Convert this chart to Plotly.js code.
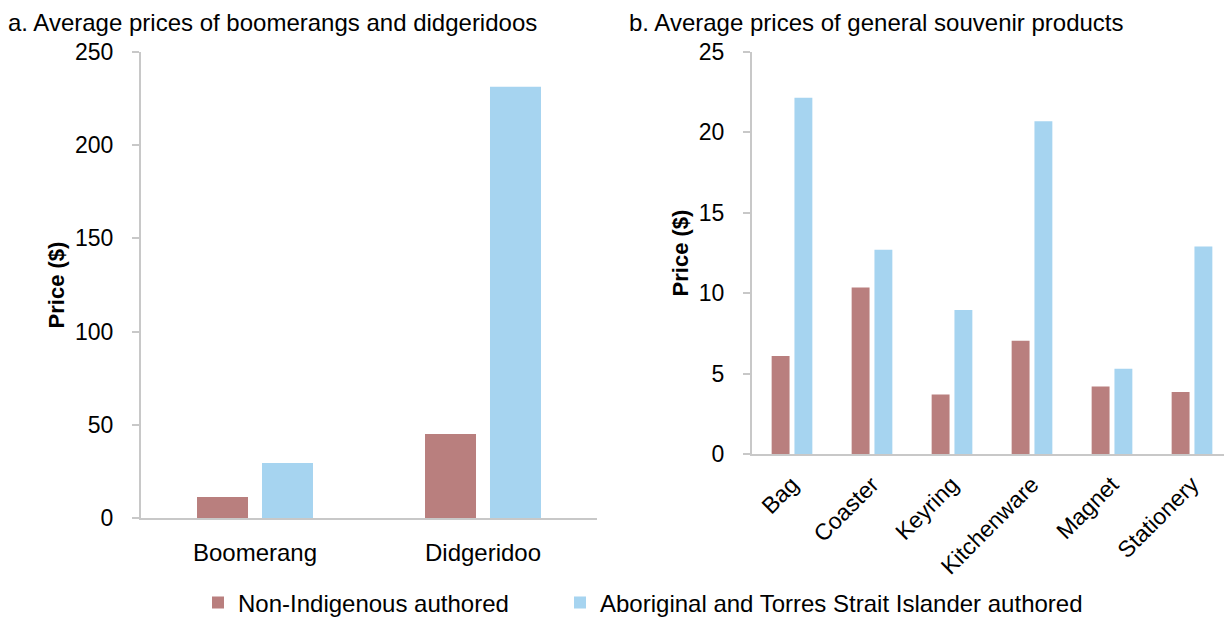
<!DOCTYPE html>
<html>
<head>
<meta charset="utf-8">
<script src="https://cdn.plot.ly/plotly-3.0.1.min.js"></script>
<style>html,body{margin:0;padding:0;background:#fff}#chart{width:1224px;height:618px}</style>
</head>
<body>
<div id="chart"></div>
<script>
// Panel a
const catsA = ["Boomerang", "Didgeridoo"];
const nonIndigA = [11.2, 45.0];
const atsiA = [29.5, 231.3];
// Panel b
const catsB = ["Bag", "Coaster", "Keyring", "Kitchenware", "Magnet", "Stationery"];
const nonIndigB = [6.1, 10.35, 3.7, 7.05, 4.2, 3.85];
const atsiB = [22.15, 12.7, 8.95, 20.7, 5.3, 12.9];

const seriesNames = ["Non-Indigenous authored", "Aboriginal and Torres Strait Islander authored"];
const colNon = "#b97f7e";
const colAtsi = "#a6d4f0";
const FONT = "Liberation Sans, Arial, sans-serif";

const data = [
  {type: "bar", x: catsA, y: nonIndigA, name: seriesNames[0], marker: {color: colNon}, xaxis: "x", yaxis: "y", legend: "legend", showlegend: true},
  {type: "bar", x: catsA, y: atsiA, name: seriesNames[1], marker: {color: colAtsi}, xaxis: "x", yaxis: "y", legend: "legend2", showlegend: true},
  {type: "bar", x: catsB, y: nonIndigB, name: seriesNames[0], marker: {color: colNon}, xaxis: "x2", yaxis: "y2", showlegend: false},
  {type: "bar", x: catsB, y: atsiB, name: seriesNames[1], marker: {color: colAtsi}, xaxis: "x2", yaxis: "y2", showlegend: false}
];

const axLine = "#c8c8c8";
const W = 1224, H = 618;
const commonY = {
  showgrid: false, zeroline: false, showline: true, linecolor: axLine, linewidth: 2,
  ticks: "outside", ticklen: 7, tickwidth: 2, tickcolor: axLine,
  tickfont: {family: FONT, size: 23, color: "#000"}, ticklabelstandoff: 14,
  fixedrange: true, automargin: false
};
const legFont = {family: FONT, size: 24, color: "#000"};
const layout = {
  width: W, height: H,
  margin: {l: 0, r: 0, t: 0, b: 0, autoexpand: false},
  paper_bgcolor: "#fff", plot_bgcolor: "#fff",
  font: {family: FONT, color: "#000"},
  barmode: "group", bargap: 0.43, bargroupgap: 0.215,
  showlegend: true,
  legend: {orientation: "h", x: 198/W, xanchor: "left", y: (H-603)/H, yanchor: "middle", font: legFont, bgcolor: "rgba(0,0,0,0)"},
  legend2: {orientation: "h", x: 560/W, xanchor: "left", y: (H-603)/H, yanchor: "middle", font: legFont, bgcolor: "rgba(0,0,0,0)"},
  xaxis: {domain: [141/W, 597/W], anchor: "y", showgrid: false, zeroline: false, showline: true, automargin: false,
          linecolor: axLine, linewidth: 2, ticks: "", tickfont: {family: FONT, size: 24}, ticklabelstandoff: 12, fixedrange: true},
  yaxis: Object.assign({}, commonY, {domain: [(H-518)/H, (H-52)/H], anchor: "x", range: [0, 250], dtick: 50,
          title: {text: "<b>Price ($)</b>", font: {family: FONT, size: 22}, standoff: 4}}),
  xaxis2: {domain: [752/W, 1], anchor: "y2", range: [-0.5, 5.4], showgrid: false, zeroline: false, showline: true, automargin: false,
          linecolor: axLine, linewidth: 2, ticks: "", tickangle: -45, tickfont: {family: FONT, size: 23}, ticklabelstandoff: 6, fixedrange: true},
  yaxis2: Object.assign({}, commonY, {domain: [(H-454)/H, (H-52)/H], anchor: "x2", range: [0, 25], dtick: 5,
          title: {text: "<b>Price ($)</b>", font: {family: FONT, size: 22}, standoff: 4}}),
  annotations: [
    {text: "a. Average prices of boomerangs and didgeridoos", xref: "paper", yref: "paper", x: 6/W, y: 1 - 22/H,
     xanchor: "left", yanchor: "middle", showarrow: false, font: {family: FONT, size: 24, color: "#000"}},
    {text: "b. Average prices of general souvenir products", xref: "paper", yref: "paper", x: 627/W, y: 1 - 22/H,
     xanchor: "left", yanchor: "middle", showarrow: false, font: {family: FONT, size: 24, color: "#000"}}
  ]
};
Plotly.newPlot("chart", data, layout, {displayModeBar: false, staticPlot: true});
</script>
</body>
</html>
